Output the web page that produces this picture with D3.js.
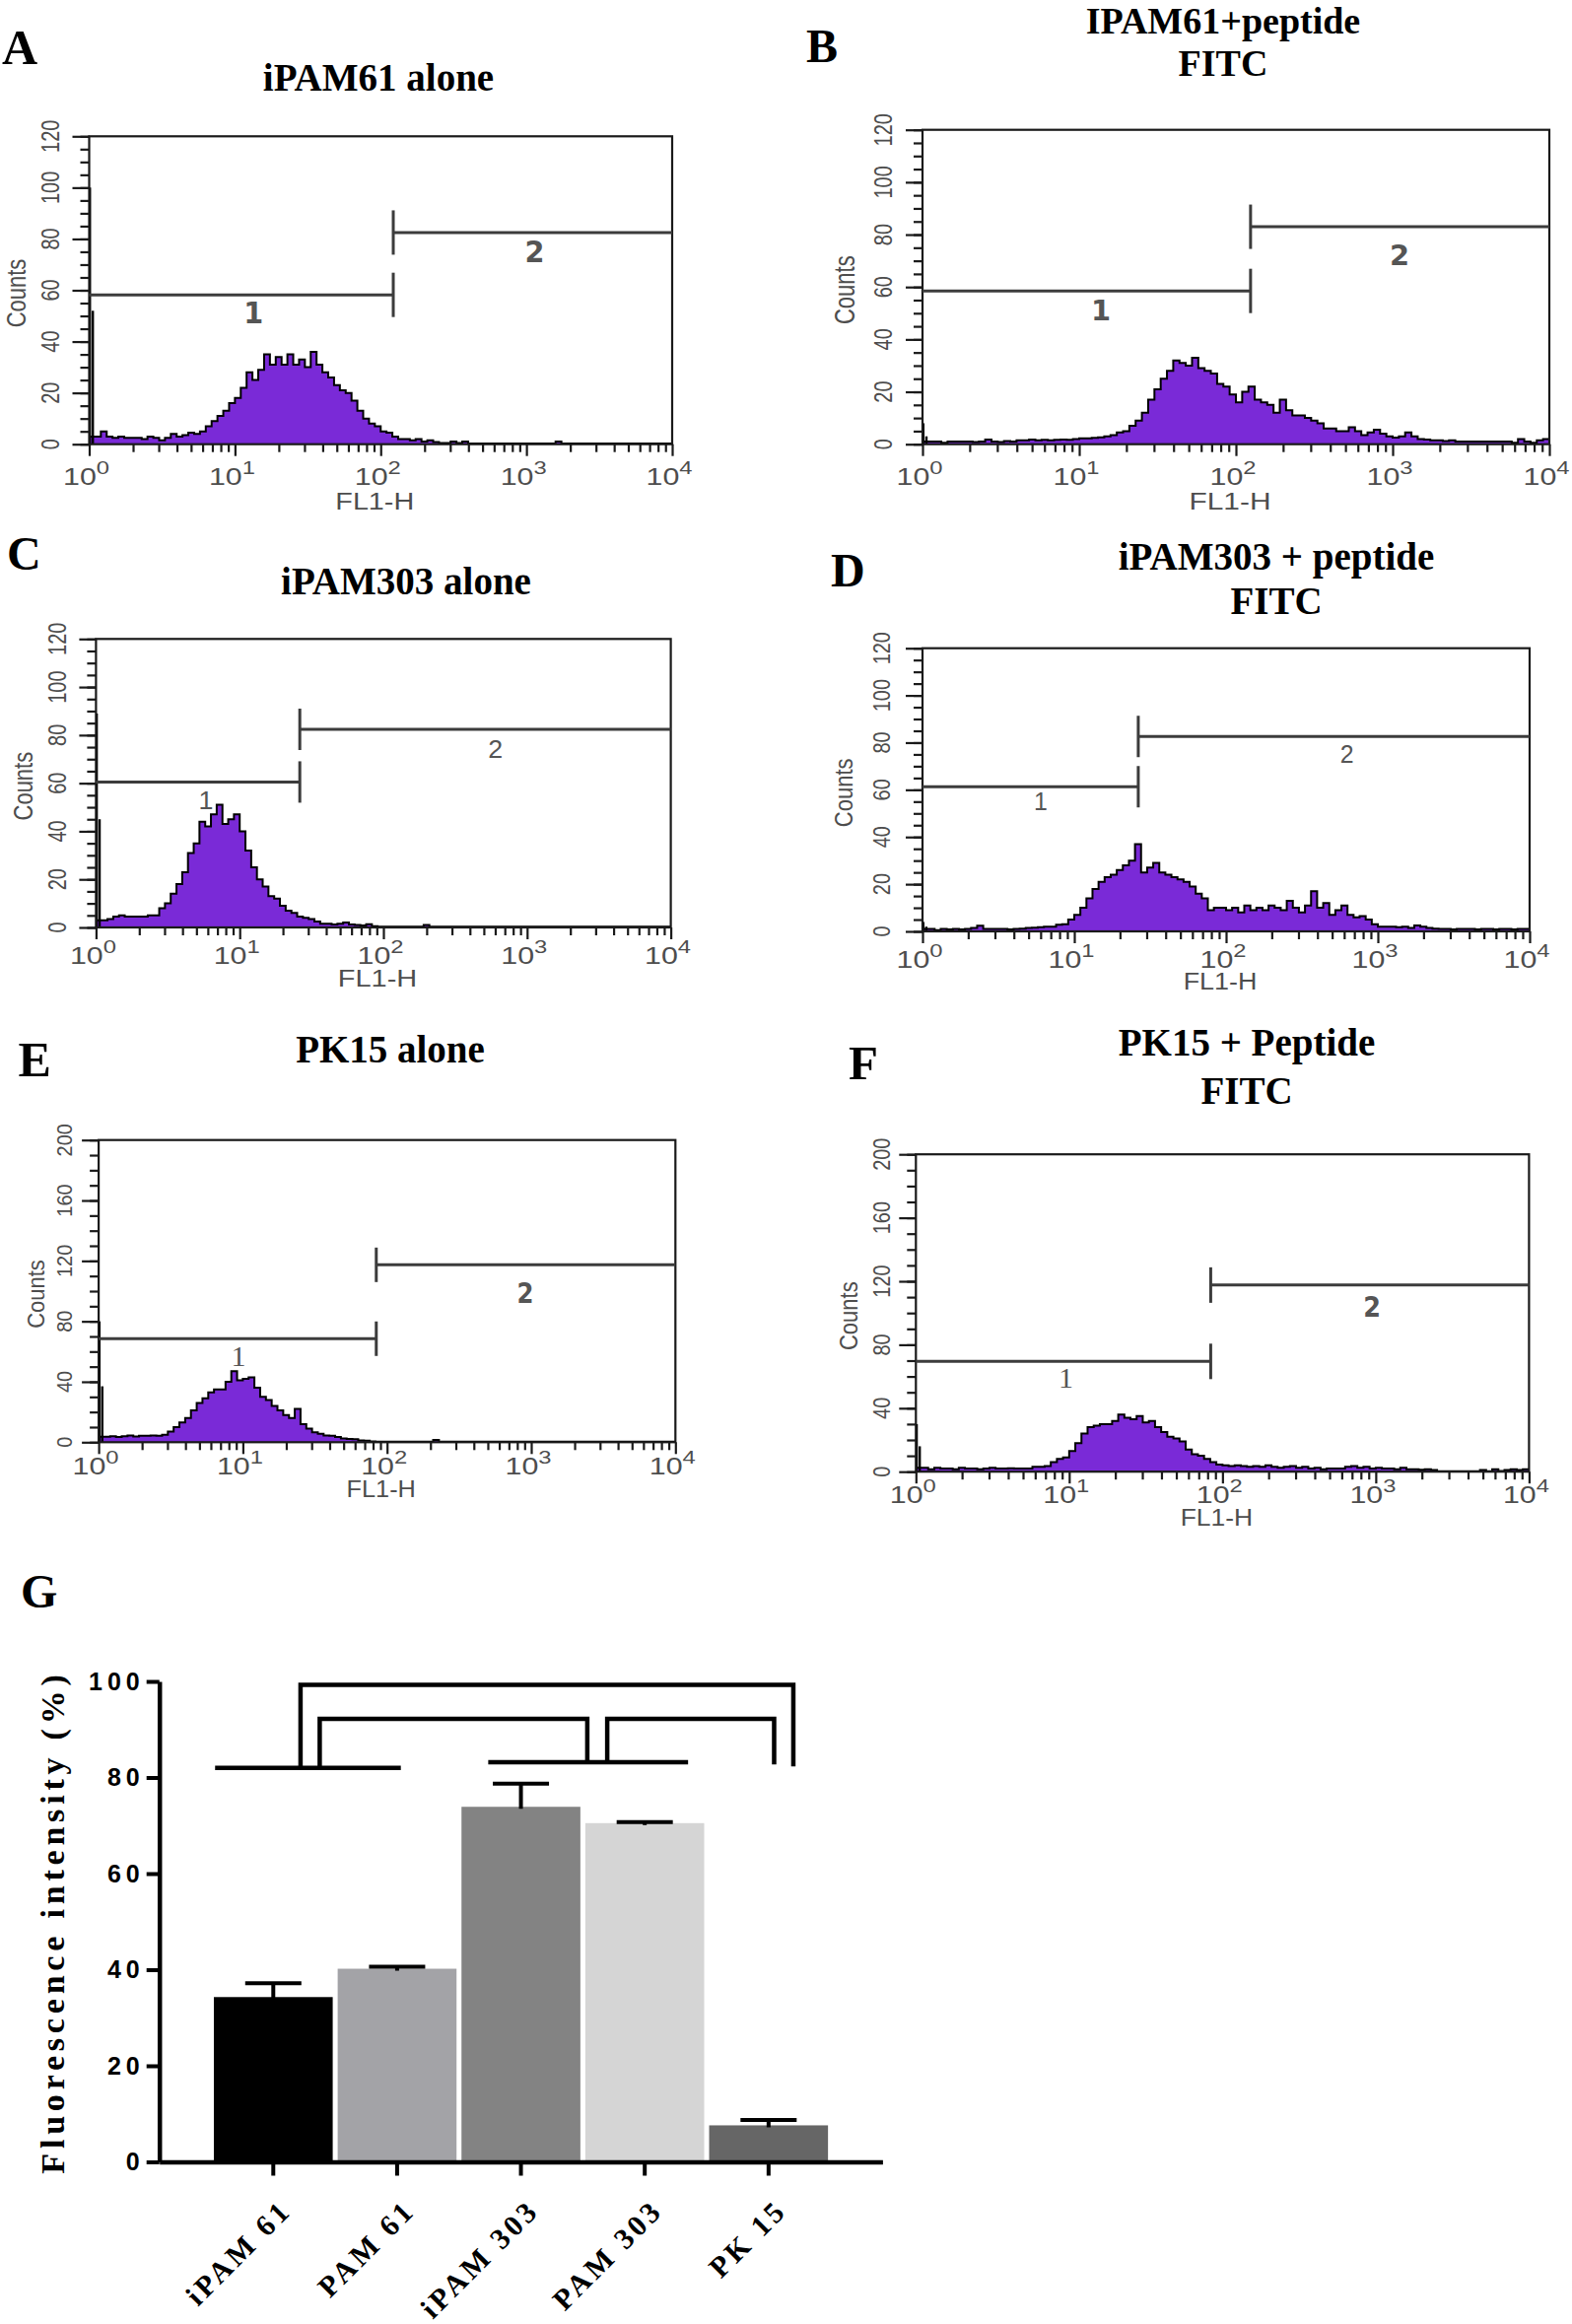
<!DOCTYPE html>
<html><head><meta charset="utf-8">
<script src="https://cdn.jsdelivr.net/npm/d3@7"></script>
<style>body{margin:0;background:#fff}svg{display:block}</style>
</head><body>
<svg id="fig" width="1595" height="2358"></svg>
<script>
// ================= DATA =================
const channelsPerDecade = 25;           // histogram channels per decade (log FL1-H)
const panelLetters = ["A","B","C","D","E","F"];
const panelTitles = [["iPAM61 alone"],["IPAM61+peptide","FITC"],["iPAM303 alone"],
                     ["iPAM303 + peptide","FITC"],["PK15 alone"],["PK15 + Peptide","FITC"]];
const countMax   = [120,120,120,120,200,200];
const countMajor = [20,20,20,20,40,40];
const countMinor = [5,5,5,5,10,10];
const xTickExponents = [0,1,2,3,4];
const gateSplit  = [122,124,26.2,26.4,84.2,83.8];      // FL1-H value of marker boundary
const gate1Level = [58.2,58.5,60.5,61.3,68.5,69.5];    // count level of marker 1
const gate2Level = [82.5,83,82.4,82.6,117.4,117.6];    // count level of marker 2
const gateNames  = ["1","2"];
// off-scale-low events piled in the first channels
const spikeLog = [0.005,0.025];
const spikesA = [100,52], spikesB = [8,3], spikesC = [89,45], spikesD = [4,2], spikesE = [80,37], spikesF = [30,16];

const histA = [3,3,5,3,2.5,3,2.5,2.5,2.5,2, 3,2.5,1.5,2.5,4,3,3.5,4.5,4,5,
  7,9,11,13,16,18,22,28,25,29, 35,31,34,31,35,31,33,30,36,31,
  28,26,23,21,20,17,13,10,8,7, 5,4.5,3,2,2,1.5,2,1,1.5,0.8,
  0.5,0.5,1,0.5,1,0.3,0.3,0.3,0.3,0.3, 0.3,0.3,0.3,0.3,0.3,0.3,0.3,0.3,0.3,0.3,
  1,0.3,0.3,0.3,0.3,0.3,0.3,0.3,0.3,0.3, 0.3,0.3,0.3,0.3,0.3,0.3,0.3,0.3,0.3,0.3];
const histB = [1,1,1,0.5,1,1,1,1,0.8,1, 1.8,1,0.8,1.2,1,1.5,1.5,1.8,1.5,1.7,
  1.5,1.7,1.8,1.7,2,2.2,2.2,2.4,2.6,3, 3.5,4.5,5,7,9,12,17,21,25,28,
  32,31,30,33,29,28,27,23,22,19, 16,20,22,17,16,15,12,17,13,11,
  11,10,9,8,6,6,5,5,6.5,5, 3.5,4.5,5.5,4,3,2.5,3,4.5,3,2,
  1.8,1.5,1.5,1.2,1.5,1,1,1,1,1, 1,1,1,1,0.5,2,1,0.5,1.5,2];
const histC = [3,3,3.5,4.5,5,4.5,4.5,4.5,4.5,5, 5,8,10,14,18,23,31,35,44,42,
  47,51,43,45,47,40,32,25,20,17, 13,12,9,7,6,4.5,4,3.5,2.5,1.5,
  1.5,1.2,1.5,2,1.2,1,0.8,1.3,0.5,0.3, 0.3,0.3,0.3,0.3,0.3,0.3,0.3,1,0.3,0.3,
  0.3,0.3,0.3,0.3,0.3,0.3,0.3,0.3,0.3,0.3, 0.3,0.3,0.3,0.3,0.3,0.3,0.3,0.3,0.3,0.3,
  0.3,0.3,0.3,0.3,0.3,0.3,0.3,0.3,0.3,0.3, 0.3,0.3,0.3,0.3,0.3,0.3,0.3,0.3,0.3,0.3];
const histD = [1,1,0.5,1,0.8,1,0.8,1,1.5,2.4, 1,1,1,1,0.8,1,1.2,1.5,1.6,1.8,
  2,2,2.8,3,5,7,10,14,18,21, 23,24,26,28,30,37,25,27,29,25,
  24,23,22,21,19,16,14,9,10,10, 9,10,8,11,9,10,9,11,10,9,
  13,10,8,11,17,10,12,7,9,11, 7,6,6.5,5,3,2,2,2,1.8,2,
  1.5,2.5,2,1.5,1.2,1,1,0.8,1,1, 1,0.8,1,1,0.8,1,1,0.8,1,1];
const histE = [3.7,3.7,4,3.5,4,4.5,3.8,4.2,4.3,4.5, 4.2,5,7,10,13,16,21,26,29,33,
  35,35,40,47,41,42,43,36,30,28, 24,21,18,16,22,12,9,6.5,5.5,4.5,
  4.3,3.5,2.5,2.2,2,1.2,1,0.5,0.3,0.3, 0.3,0.3,0.3,0.3,0.3,0.3,0.3,0.3,1.5,0.3,
  0.3,0.3,0.3,0.3,0.3,0.3,0.3,0.3,0.3,0.3, 0.3,0.3,0.3,0.3,0.3,0.3,0.3,0.3,0.3,0.3,
  0.3,0.3,0.3,0.3,0.3,0.3,0.3,0.3,0.3,0.3, 0.3,0.3,0.3,0.3,0.3,0.3,0.3,0.3,0.3,0.3];
const histF = [2.5,2.5,1.5,2.5,2,2,1.5,2.5,2,2, 1.5,2,2.5,2,2,2.2,2,2,2,3,
  3,3.5,6,8,9,13,18,24,28,29, 30,30,32,36,34,33,35,31,32,28,
  25,22,21,19,14,11,10,8,6,4.5, 4,3.5,4,3.5,3,3.5,3,4,3,2.5,
  3,3.5,2.5,3,2,2.5,1.5,2,2,2, 3,3.5,2.5,3,2,2.5,2,2,1.5,2.5,
  1.5,1.5,1.2,1.5,1,0.3,0.3,0.3,0.3,0.3, 0.3,0.3,1,0.3,1.5,0.5,1,1.5,1,1.5];

// bar chart (G)
const barCategories = ["iPAM 61","PAM 61","iPAM 303","PAM 303","PK 15"];
const barValues = [34.3,40.2,73.9,70.5,7.6];
const barErrors = [2.9,0.4,4.8,0.2,1.1];
const barYTicks = [0,20,40,60,80,100];
const barYTitle = "Fluorescence intensity (%)";
// significance annotation: [from, to, level] in category-index units / percent
const groupLines = [[-0.47,1.03,82],[1.736,3.35,83.2]];
const brackets = [[0.22,4.2,99.3,82,82.3],[0.375,2.536,92.2,82,83.2],[2.697,4.045,92.2,83.2,82.7]];

// ================= STYLE / LAYOUT =================
const histograms = [histA,histB,histC,histD,histE,histF];
const spikes = [spikesA,spikesB,spikesC,spikesD,spikesE,spikesF];
const SERIF = "'Liberation Serif','Times New Roman',serif";
const SANS = "'Liberation Sans',Arial,Helvetica,sans-serif";
const COND = "'DejaVu Sans Condensed','DejaVu Sans',sans-serif";
const PURPLE = "#7a2ad7", TXT = "#4d4d4d", GATE = "#3c3c3c";
const barColors = ["#000000","#a3a3a7","#838383","#d5d5d5","#666666"];
const TICK_STRETCH = 1.32;

const layout = [
 {l:90.5,r:682,t:138.3,b:450.7, letter:[2,65,50], title:[384,[91.7]], tsize:39, tickDy:41, flDy:66, ytDx:-39.5, cDx:-74.5, half:22.5,
  st:1.25, lab1:[1.127,51.3], lab2:[3.056,75.2], f1:[COND,"bold",30], f2:[COND,"bold",30]},
 {l:936,r:1572,t:131.7,b:450.7, letter:[818,63.3,48], title:[1241,[34,77]], tsize:38, tickDy:41, flDy:66, ytDx:-40, cDx:-79, half:22.5,
  st:1.3, lab1:[1.138,51.4], lab2:[3.044,72.1], f1:[COND,"bold",29], f2:[COND,"bold",29]},
 {l:97.4,r:680.6,t:648.3,b:941, letter:[7,578.3,48], title:[412,[603.3]], tsize:39, tickDy:37, flDy:60, ytDx:-39.5, cDx:-74.7, half:21,
  st:1.26, lab1:[0.765,53], lab2:[2.779,74.2], f1:[SANS,"normal",25], f2:[SANS,"normal",25]},
 {l:936,r:1552,t:657.7,b:945, letter:[843,595,48], title:[1295,[578.3,623.3]], tsize:39, tickDy:36.5, flDy:59, ytDx:-41, cDx:-80.5, half:21,
  st:1.17, lab1:[0.779,55], lab2:[2.797,75.2], f1:[SANS,"normal",25], f2:[SANS,"normal",25]},
 {l:100.1,r:685.3,t:1156.7,b:1463.3, letter:[18.6,1091.7,50], title:[396,[1078.3]], tsize:39, tickDy:33, flDy:56, ytDx:-35, cDx:-64, half:17.5,
  st:1.1, lab1:[0.97,57.6], lab2:[2.959,98.9], f1:[SERIF,"normal",30], f2:[COND,"bold",29]},
 {l:929.3,r:1551.4,t:1171.2,b:1493.2, letter:[861,1095.4,49], title:[1265,[1071.3,1119.5]], tsize:39, tickDy:32, flDy:55, ytDx:-35, cDx:-68, half:18,
  st:1.15, lab1:[0.978,59.9], lab2:[2.976,104.2], f1:[SERIF,"normal",30], f2:[COND,"bold",29]}
];

const fig = d3.select("#fig");
fig.append("rect").attr("width",1595).attr("height",2358).attr("fill","#fff");

function drawHist(i){
  const L = layout[i];
  const g = fig.append("g");
  const x = d3.scaleLog().domain([1,1e4]).range([L.l,L.r]);
  const y = d3.scaleLinear().domain([0,countMax[i]]).range([L.b,L.t]);
  const vals = histograms[i];
  const pts = vals.map((v,k)=>[Math.pow(10,k/channelsPerDecade),v]);
  pts.push([1e4,vals[vals.length-1]]);
  g.append("path").attr("d",d3.area().x(d=>x(d[0])).y0(y(0)).y1(d=>y(d[1])).curve(d3.curveStepAfter)(pts))
    .attr("fill",PURPLE);
  g.append("path").attr("d",d3.line().x(d=>x(d[0])).y(d=>y(d[1])).curve(d3.curveStepAfter)(pts))
    .attr("fill","none").attr("stroke","#000").attr("stroke-width",2);
  spikes[i].forEach((v,k)=>{
    const xv = x(Math.pow(10,spikeLog[k]));
    g.append("line").attr("x1",xv).attr("x2",xv).attr("y1",y(0)).attr("y2",y(v))
      .attr("stroke","#000").attr("stroke-width",2.4);
  });
  // frame
  g.append("rect").attr("x",L.l).attr("y",L.t).attr("width",L.r-L.l).attr("height",L.b-L.t)
    .attr("fill","none").attr("stroke","#1a1a1a").attr("stroke-width",2.2);
  // y axis ticks
  const styleAx = s=>{ s.select(".domain").remove(); s.selectAll("line").attr("stroke","#1a1a1a").attr("stroke-width",2.2); };
  g.append("g").attr("transform",`translate(${L.l},0)`)
    .call(d3.axisLeft(y).tickValues(d3.range(0,countMax[i]+0.01,countMinor[i])).tickSize(9).tickFormat("")).call(styleAx);
  const majors = d3.range(0,countMax[i]+0.01,countMajor[i]);
  g.append("g").attr("transform",`translate(${L.l},0)`)
    .call(d3.axisLeft(y).tickValues(majors).tickSize(17).tickFormat("")).call(styleAx);
  majors.forEach(v=>{
    g.append("text").attr("transform",`translate(${L.l+L.ytDx},${y(v)}) scale(${L.st},1) rotate(-90)`)
      .attr("text-anchor","middle").attr("dy","0.36em").attr("font-family",SANS).attr("font-size",20)
      .attr("fill",TXT).text(v);
  });
  // x axis ticks
  const minorX = [];
  for(let e=0;e<4;e++) for(let m=2;m<=9;m++) minorX.push(m*Math.pow(10,e));
  g.append("g").attr("transform",`translate(0,${L.b})`)
    .call(d3.axisBottom(x).tickValues(minorX).tickSize(8).tickFormat("")).call(styleAx);
  g.append("g").attr("transform",`translate(0,${L.b})`)
    .call(d3.axisBottom(x).tickValues(xTickExponents.map(e=>Math.pow(10,e))).tickSize(12).tickFormat("")).call(styleAx);
  xTickExponents.forEach(e=>{
    const t = g.append("text").attr("transform",`translate(${x(Math.pow(10,e))-3},${L.b+L.tickDy}) scale(${TICK_STRETCH},1)`)
      .attr("text-anchor","middle").attr("font-family",SANS).attr("font-size",23).attr("fill",TXT);
    t.append("tspan").text("10");
    t.append("tspan").attr("dy",-11).attr("font-size",18).text(e);
  });
  g.append("text").attr("transform",`translate(${(L.l+L.r)/2-6},${L.b+L.flDy}) scale(${L.st},1)`)
    .attr("text-anchor","middle").attr("font-family",SANS).attr("font-size",23).attr("fill",TXT).text("FL1-H");
  g.append("text").attr("transform",`translate(${L.l+L.cDx},${(L.t+L.b)/2+3}) scale(${L.st},1) rotate(-90)`)
    .attr("text-anchor","middle").attr("dy","0.36em").attr("font-family",SANS).attr("font-size",22)
    .attr("fill",TXT).text("Counts");
  // markers (gates)
  const xs = x(gateSplit[i]);
  const gl = (x1,y1,x2,y2)=>g.append("line").attr("x1",x1).attr("y1",y1).attr("x2",x2).attr("y2",y2)
      .attr("stroke",GATE).attr("stroke-width",3);
  const y1 = y(gate1Level[i]), y2 = y(gate2Level[i]);
  gl(L.l,y1,xs,y1); gl(xs,y1-L.half,xs,y1+L.half);
  gl(xs,y2,L.r,y2); gl(xs,y2-L.half,xs,y2+L.half);
  [[L.lab1,L.f1,gateNames[0]],[L.lab2,L.f2,gateNames[1]]].forEach(([p,f,s])=>{
    g.append("text").attr("transform",`translate(${x(Math.pow(10,p[0]))},${y(p[1])}) scale(${f[0]===SERIF?1:L.st*0.85},1)`)
      .attr("text-anchor","middle").attr("dy","0.36em").attr("font-family",f[0]).attr("font-weight",f[1])
      .attr("font-size",f[2]).attr("fill","#555").text(s);
  });
  // panel letter and title
  fig.append("text").attr("x",L.letter[0]).attr("y",L.letter[1]).attr("font-family",SERIF).attr("font-weight","bold")
    .attr("font-size",L.letter[2]).attr("fill","#000").text(panelLetters[i]);
  panelTitles[i].forEach((s,k)=>{
    fig.append("text").attr("x",L.title[0]).attr("y",L.title[1][k]).attr("text-anchor","middle")
      .attr("font-family",SERIF).attr("font-weight","bold").attr("font-size",L.tsize).attr("fill","#000").text(s);
  });
}
for(let i=0;i<6;i++) drawHist(i);

// ================= PANEL G =================
(function(){
  const g = fig.append("g");
  const x = d3.scaleBand().domain(barCategories).range([161.7,895.4]).paddingInner(0.04).paddingOuter(0.44);
  const y = d3.scaleLinear().domain([0,100]).range([2193.5,1706]);
  const xi = v=> x(barCategories[0]) + x.bandwidth()/2 + v*x.step();
  g.selectAll("rect.bar").data(barCategories).join("rect").attr("class","bar")
    .attr("x",d=>x(d)).attr("width",x.bandwidth())
    .attr("y",(d,k)=>y(barValues[k])).attr("height",(d,k)=>y(0)-y(barValues[k]))
    .attr("fill",(d,k)=>barColors[k]);
  // error bars
  barCategories.forEach((c,k)=>{
    const cx = x(c)+x.bandwidth()/2, top = y(barValues[k]+barErrors[k]);
    g.append("line").attr("x1",cx).attr("x2",cx).attr("y1",y(barValues[k])+2).attr("y2",top).attr("stroke","#000").attr("stroke-width",4);
    g.append("line").attr("x1",cx-28.5).attr("x2",cx+28.5).attr("y1",top).attr("y2",top).attr("stroke","#000").attr("stroke-width",4);
  });
  // axes
  const yAx = g.append("g").attr("transform","translate(161.7,0)")
    .call(d3.axisLeft(y).tickValues(barYTicks).tickSize(13).tickSizeOuter(0).tickPadding(2));
  yAx.select(".domain").attr("stroke","#000").attr("stroke-width",4.5);
  yAx.selectAll("line").attr("stroke","#000").attr("stroke-width",4);
  yAx.selectAll("text").attr("font-family",SANS).attr("font-weight","bold").attr("font-size",25)
    .attr("letter-spacing",5).attr("fill","#000");
  const xAx = g.append("g").attr("transform","translate(0,2193.5)")
    .call(d3.axisBottom(x).tickSize(14).tickSizeOuter(0).tickFormat(""));
  xAx.select(".domain").attr("stroke","#000").attr("stroke-width",4.5);
  xAx.selectAll("line").attr("stroke","#000").attr("stroke-width",4);
  // x labels
  barCategories.forEach(c=>{
    g.append("text").attr("transform",`translate(${x(c)+x.bandwidth()/2+20},${2193.5+51}) rotate(-45)`)
      .attr("text-anchor","end").attr("font-family",SERIF).attr("font-weight","bold").attr("font-size",30)
      .attr("letter-spacing",3.5).attr("fill","#000").text(c);
  });
  // y title
  g.append("text").attr("transform","translate(65,1950) rotate(-90)").attr("text-anchor","middle")
    .attr("font-family",SERIF).attr("font-weight","bold").attr("font-size",34).attr("letter-spacing",4.8)
    .attr("fill","#000").text(barYTitle);
  // significance lines
  const st = s=>s.attr("fill","none").attr("stroke","#000").attr("stroke-width",4.5);
  groupLines.forEach(([a,b,v])=> st(g.append("path").attr("d",`M${xi(a)},${y(v)}H${xi(b)}`)));
  brackets.forEach(([a,b,top,ya,yb])=> st(g.append("path").attr("d",`M${xi(a)},${y(ya)}V${y(top)}H${xi(b)}V${y(yb)}`)));
  fig.append("text").attr("x",21).attr("y",1631).attr("font-family",SERIF).attr("font-weight","bold")
    .attr("font-size",48).attr("fill","#000").text("G");
})();
</script>
</body></html>
